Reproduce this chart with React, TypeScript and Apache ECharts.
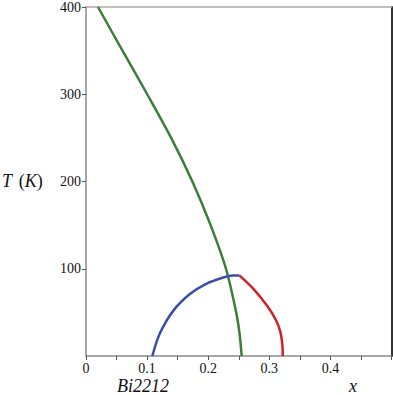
import React, { useEffect, useRef } from "react";
import * as echarts from "echarts";

const greenT = [400, 350, 300, 250, 200, 150, 100, 50, 25, 0];
const greenX = [0.0196, 0.0597, 0.1002, 0.1394, 0.1741, 0.2039, 0.2291, 0.2458, 0.2514, 0.2548];
const blueX = [0.1085, 0.121, 0.143, 0.17, 0.1975, 0.2247, 0.24, 0.251];
const blueT = [0, 26, 52, 71, 83, 90, 92.3, 92.4];
const redX = [0.251, 0.274, 0.297, 0.311, 0.318, 0.3215, 0.322];
const redT = [92.4, 77, 57, 41, 28, 12, 0];

const pairs = (xs: number[], ys: number[]) => xs.map((x, i) => [x, ys[i]]);
const SERIF = "'Times New Roman', 'Liberation Serif', serif";

export default function App() {
  const ref = useRef<HTMLDivElement>(null);
  useEffect(() => {
    const chart = echarts.init(ref.current!, null, { renderer: "svg" });
    const axisGray = "#8a8a8a";
    const labelStyle = {
      color: "#111",
      fontFamily: SERIF,
      fontSize: 14,
      fontWeight: "normal",
      margin: 5,
    };
    chart.setOption({
      animation: false,
      textStyle: { fontFamily: SERIF },
      grid: { left: 86, top: 4, width: 305.5, height: 352 },
      xAxis: [
        {
          type: "value",
          min: 0,
          max: 0.5,
          interval: 0.1,
          axisLine: { show: true, lineStyle: { color: axisGray, width: 1.5 } },
          axisTick: { show: true, length: 4, lineStyle: { color: "#555" } },
          minorTick: { show: true, splitNumber: 2, length: 4, lineStyle: { color: "#555" } },
          splitLine: { show: false },
          axisLabel: {
            ...labelStyle,
            showMaxLabel: false,
            formatter: (v: number) => (v === 0 ? "0" : String(Math.round(v * 10) / 10)),
          },
        },
        {
          type: "value",
          position: "top",
          min: 0,
          max: 0.5,
          axisLine: { show: true, onZero: false, lineStyle: { color: "#aaaaaa", width: 1.5 } },
          axisTick: { show: false },
          axisLabel: { show: false },
          splitLine: { show: false },
        },
      ],
      yAxis: [
        {
          type: "value",
          min: 0,
          max: 400,
          interval: 100,
          axisLine: { show: true, onZero: false, lineStyle: { color: axisGray, width: 1.5 } },
          axisTick: { show: true, length: 4, lineStyle: { color: "#555" } },
          splitLine: { show: false },
          axisLabel: { ...labelStyle, showMinLabel: false },
        },
        {
          type: "value",
          position: "right",
          min: 0,
          max: 400,
          axisLine: { show: true, onZero: false, lineStyle: { color: "#333", width: 2 } },
          axisTick: { show: false },
          axisLabel: { show: false },
          splitLine: { show: false },
        },
      ],
      series: [
        {
          type: "line",
          data: pairs(greenX, greenT),
          smooth: 0.3,
          showSymbol: false,
          lineStyle: { color: "#3a7e3a", width: 2.5 },
        },
        {
          type: "line",
          data: pairs(blueX, blueT),
          smooth: 0.3,
          showSymbol: false,
          lineStyle: { color: "#3a4ea6", width: 2.5 },
        },
        {
          type: "line",
          data: pairs(redX, redT),
          smooth: 0.3,
          showSymbol: false,
          lineStyle: { color: "#d12228", width: 2.5 },
        },
      ],
      graphic: [
        {
          type: "text",
          left: 2,
          top: 172,
          style: {
            text: "{i|T}  {n|(}{i|K}{n|)}",
            rich: {
              i: { fontFamily: SERIF, fontStyle: "italic", fontSize: 18, fill: "#111" },
              n: { fontFamily: SERIF, fontSize: 18, fill: "#111" },
            },
          },
        },
        {
          type: "text",
          left: 117,
          top: 377,
          style: { text: "Bi2212", fontFamily: SERIF, fontStyle: "italic", fontSize: 18, fill: "#111" },
        },
        {
          type: "text",
          left: 349,
          top: 377,
          style: { text: "x", fontFamily: SERIF, fontStyle: "italic", fontSize: 18, fill: "#111" },
        },
      ],
    });
    return () => chart.dispose();
  }, []);
  return (
    <div
      ref={ref}
      style={{ position: "fixed", left: 0, top: 0, width: 393, height: 395, background: "#fff" }}
    />
  );
}
